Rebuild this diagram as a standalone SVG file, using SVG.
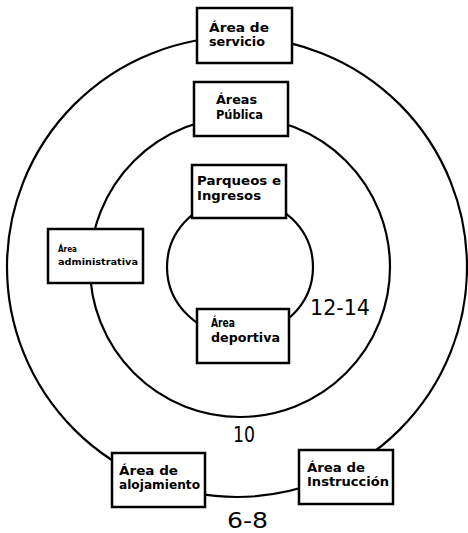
<svg xmlns="http://www.w3.org/2000/svg" width="468" height="533" viewBox="0 0 468 533">
  <style>
    .ring { fill: none; stroke: #000; stroke-width: 2.2; }
    .box { fill: #fff; stroke: #000; stroke-width: 2.5; }
    .lbl { font-family: "DejaVu Sans", "Liberation Sans", sans-serif; font-weight: bold; font-size: 12px; fill: #000; }
    .sm { font-size: 9px; }
    .num { font-family: "DejaVu Sans", "Liberation Sans", sans-serif; font-size: 21px; fill: #000; }
  </style>
  <rect width="468" height="533" fill="#fff"/>

  <!-- concentric rings linking the zones -->
  <g id="connectors">
    <circle class="ring" cx="237" cy="267" r="230"/>
    <circle class="ring" cx="240" cy="267" r="150"/>
    <ellipse class="ring" cx="240" cy="267" rx="73" ry="69"/>
  </g>

  <g id="servicio">
    <rect class="box" x="197" y="8" width="95" height="55"/>
    <text class="lbl" x="209" y="32" textLength="60" lengthAdjust="spacingAndGlyphs">Área de</text>
    <text class="lbl" x="209" y="46" textLength="56" lengthAdjust="spacingAndGlyphs">servicio</text>
  </g>

  <g id="publica">
    <rect class="box" x="194" y="82" width="94" height="54"/>
    <text class="lbl" x="216" y="104" textLength="41" lengthAdjust="spacingAndGlyphs">Áreas</text>
    <text class="lbl" x="216" y="119" textLength="47" lengthAdjust="spacingAndGlyphs">Pública</text>
  </g>

  <g id="parqueos">
    <rect class="box" x="192" y="165" width="94" height="53"/>
    <text class="lbl" x="197" y="185" style="font-size:13px" textLength="84" lengthAdjust="spacingAndGlyphs">Parqueos e</text>
    <text class="lbl" x="197" y="200" style="font-size:13px" textLength="64" lengthAdjust="spacingAndGlyphs">Ingresos</text>
  </g>

  <g id="administrativa">
    <rect class="box" x="48" y="229" width="95" height="54"/>
    <text class="lbl sm" x="58" y="252" textLength="19" lengthAdjust="spacingAndGlyphs">Área</text>
    <text class="lbl sm" x="58" y="265" textLength="80" lengthAdjust="spacingAndGlyphs">administrativa</text>
  </g>

  <g id="deportiva">
    <rect class="box" x="197" y="309" width="92" height="54"/>
    <text class="lbl" x="211" y="327" textLength="24" lengthAdjust="spacingAndGlyphs">Área</text>
    <text class="lbl" x="211" y="342" textLength="69" lengthAdjust="spacingAndGlyphs">deportiva</text>
  </g>

  <g id="alojamiento">
    <rect class="box" x="112" y="453" width="93" height="54"/>
    <text class="lbl" x="119" y="475" textLength="59" lengthAdjust="spacingAndGlyphs">Área de</text>
    <text class="lbl" x="119" y="489" textLength="81" lengthAdjust="spacingAndGlyphs">alojamiento</text>
  </g>

  <g id="instruccion">
    <rect class="box" x="299" y="450" width="94" height="54"/>
    <text class="lbl" x="307" y="472" textLength="58" lengthAdjust="spacingAndGlyphs">Área de</text>
    <text class="lbl" x="307" y="486" textLength="82" lengthAdjust="spacingAndGlyphs">Instrucción</text>
  </g>

  <!-- ring distances -->
  <g id="distances">
    <text class="num" x="310" y="315" textLength="60" lengthAdjust="spacingAndGlyphs">12-14</text>
    <text class="num" x="233" y="442" textLength="22" lengthAdjust="spacingAndGlyphs">10</text>
    <text class="num" x="227" y="528" textLength="41" lengthAdjust="spacingAndGlyphs">6-8</text>
  </g>
</svg>
